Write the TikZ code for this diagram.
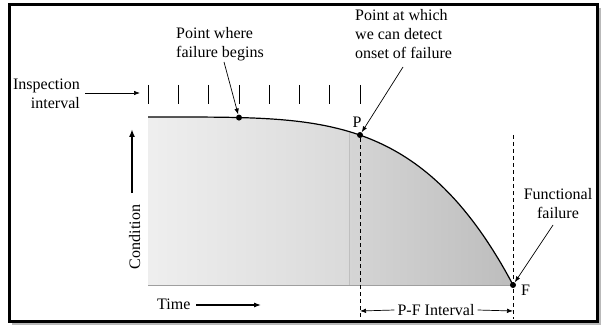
\documentclass[tikz,border=0pt]{standalone}
\usepackage{fontspec}
\setmainfont{Liberation Serif}
\usetikzlibrary{arrows.meta}
\begin{document}
\begin{tikzpicture}[x=1pt,y=-1pt,
  lbl/.style={inner sep=0pt,font=\fontsize{16}{19}\selectfont},
  thinarrow/.style={line width=0.7pt,-{Latex[length=6pt,width=4.5pt]}},
  dot/.style={circle,fill=black,inner sep=0pt,minimum size=6pt},
  dashline/.style={line width=0.7pt,dash pattern=on 4pt off 3pt},
  tick/.style={line width=0.7pt}]
\useasboundingbox (0,0) rectangle (612,331);
% frame
\draw[gray!55,line width=1.5pt] (600,8) -- (600,324) -- (12,324);
\draw[line width=3pt] (9,5) rectangle (597,321);
% shaded region
\begin{scope}
\clip (148,117) -- plot[domain=149:513,samples=90] (\x,{117+168*((\x-148)/365)^4.1}) -- (513,285) -- (148,285) -- cycle;
\shade[left color=gray!13,right color=gray!29] (148,100) rectangle (349,290);
\shade[left color=gray!33,right color=gray!52] (349,100) rectangle (514,290);
\draw[gray!50,line width=0.8pt] (349,100) -- (349,290);
\end{scope}
% curve
\draw[line width=1.2pt] (148,117) -- plot[domain=149:513,samples=90] (\x,{117+168*((\x-148)/365)^4.1});
\draw[gray!75,line width=1pt] (148,285) -- (513,285);
% key points
\coordinate (Bc) at (239,117.6);
\coordinate (Pc) at (360,135);
\coordinate (Fc) at (513,285);
\node[dot] (B) at (Bc) {};
\node[dot] (P) at (Pc) {};
\node[dot] (F) at (Fc) {};
% dashed verticals
\coordinate (Pbot) at (360,319);
\coordinate (Ftop) at (513,135);
\coordinate (Fbot) at (513,319);
\draw[dashline] (P) -- (Pbot);
\draw[dashline] (Ftop) -- (Fbot);
% inspection ticks
\foreach \i in {0,...,7}{
  \draw[tick] ({148+\i*30.3},85) -- ({148+\i*30.3},104);
}
% labels
\node[lbl,align=left,anchor=north west] (fb) at (176,27) {Point where\\failure begins};
\node[lbl,align=left,anchor=north west] (det) at (355,9) {Point at which\\we can detect\\onset of failure};
\node[lbl,align=right,anchor=north east] (insp) at (80,79) {Inspection\\interval};
\node[lbl,align=center,anchor=north] (ff) at (558,188) {Functional\\failure};
\node[lbl,anchor=base] (Plbl) at (357,128) {P};
\node[lbl,anchor=base west] (Flbl) at (521,295) {F};
\node[lbl,anchor=base,rotate=90] (cond) at (140,237) {Condition};
\node[lbl,anchor=base west] (time) at (157,309) {Time};
\node[lbl,fill=white,inner xsep=3pt] (pf) at (436,310) {P-F Interval};
% arrows
\coordinate (ia) at (85,93);
\coordinate (ib) at (140,93);
\draw[thinarrow] (ia) -- (ib);
\coordinate (fbs) at (224,62);
\draw[thinarrow] (fbs) -- (B);
\coordinate (dets) at (403,67);
\draw[thinarrow] (dets) -- (P);
\coordinate (ffs) at (553,225);
\draw[thinarrow] (ffs) -- (F);
\coordinate (c1) at (132,193);
\coordinate (c2) at (132,129);
\draw[line width=2pt,-{Latex[length=8pt,width=6pt]}] (c1) -- (c2);
\coordinate (t1) at (196,305);
\coordinate (t2) at (261,305);
\draw[line width=1.1pt,-{Latex[length=7pt,width=5pt]}] (t1) -- (t2);
\coordinate (pfl) at (360,311);
\coordinate (pfr) at (513,311);
\draw[thinarrow] (pf.west) -- (pfl);
\draw[thinarrow] (pf.east) -- (pfr);
\end{tikzpicture}
\end{document}
